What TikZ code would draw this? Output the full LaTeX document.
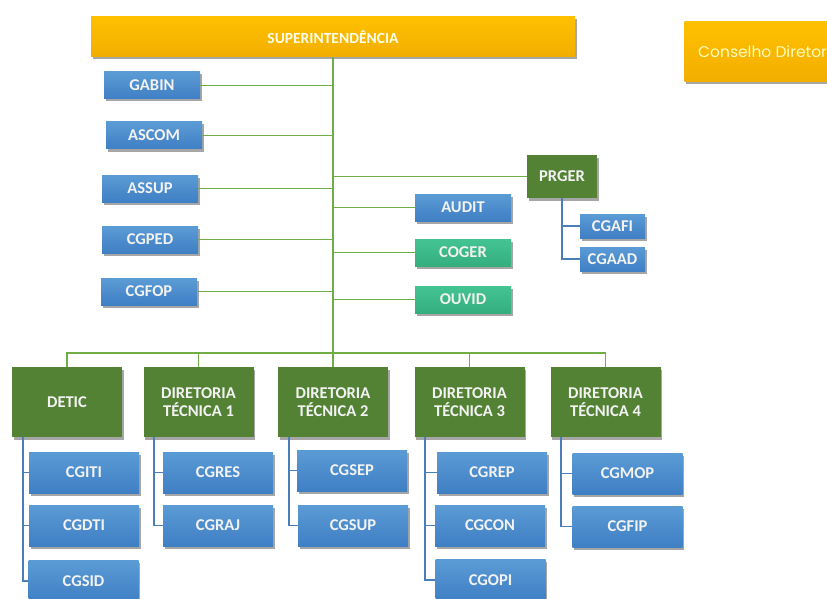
\documentclass[tikz,border=0pt]{standalone}
\usepackage{fontspec}
\setmainfont{Carlito}
\newfontfamily\thinsans{Poppins}
\usepackage{tikz}
\usetikzlibrary{calc,shadows}
\definecolor{supyellow}{HTML}{FFC000}
\definecolor{supdark}{HTML}{F2AE00}
\definecolor{boxblue}{HTML}{5B9BD5}
\definecolor{boxbluedk}{HTML}{3F7FC4}
\definecolor{dirgreen}{HTML}{548235}
\definecolor{tealbox}{HTML}{44C493}
\definecolor{tealdk}{HTML}{35AE7E}
\definecolor{linegreen}{HTML}{70AD47}
\definecolor{lineblue}{HTML}{4A7EBB}

\begin{document}
\begin{tikzpicture}[x=1pt,y=-1pt,
  shd/.style={drop shadow={shadow xshift=1.5pt,shadow yshift=-2.5pt,opacity=.35,fill=black}},
  unit/.style={shd,top color=boxblue,bottom color=boxbluedk,draw=none,text=white!95!black,
    inner sep=0pt,minimum width=96pt,minimum height=27pt,font=\bfseries\fontsize{16.5}{19}\selectfont},
  coord/.style={unit,minimum width=110pt,minimum height=41pt},
  small/.style={unit,minimum width=65pt,minimum height=24pt},
  ctrl/.style={unit,top color=tealbox,bottom color=tealdk},
  dir/.style={shd,fill=dirgreen,text=white!95!black,inner sep=0pt,align=center,
    minimum width=110pt,minimum height=70pt,font=\bfseries\fontsize{16.5}{18}\selectfont},
  top/.style={shd,top color=supyellow,bottom color=supdark,text=white!92!yellow,inner sep=0pt},
  trunk/.style={linegreen,line width=2.4pt},
  link/.style={linegreen,line width=1.8pt},
  spine/.style={lineblue,line width=1.8pt}]
\useasboundingbox[fill=white] (0,0) rectangle (827,599);

% top level
\node[top,minimum width=484pt,minimum height=40pt,font=\bfseries\fontsize{15.5}{17}\selectfont] (sup) at (333,37) {SUPERINTEND\^ENCIA};
\node[top,minimum width=145pt,minimum height=60pt] (cons) at (757,52) {};
\node[anchor=west,text=white!75!yellow,font=\thinsans\fontsize{15.5}{18}\selectfont,inner sep=0pt] (consl) at (698,52) {Conselho Diretor};

% staff units, left side
\node[unit] (gabin) at (152,85.5) {GABIN};
\node[unit] (ascom) at (154,135.5) {ASCOM};
\node[unit] (assup) at (150,188.5) {ASSUP};
\node[unit] (cgped) at (150,239.5) {CGPED};
\node[unit] (cgfop) at (149,291.5) {CGFOP};

% right side
\node[dir,minimum width=70pt,minimum height=43pt] (prger) at (562,176.5) {PRGER};
\node[unit] (audit) at (463,207.5) {AUDIT};
\node[ctrl] (coger) at (463,252.5) {COGER};
\node[ctrl] (ouvid) at (463,299.5) {OUVID};
\node[small] (cgafi) at (612.5,226) {CGAFI};
\node[small] (cgaad) at (612.5,259) {CGAAD};

% directorates
\node[dir] (detic) at (67,402) {DETIC};
\node[dir] (dt1) at (198.5,402) {DIRETORIA\\T\'ECNICA 1};
\node[dir] (dt2) at (333,402) {DIRETORIA\\T\'ECNICA 2};
\node[dir] (dt3) at (469.5,402) {DIRETORIA\\T\'ECNICA 3};
\node[dir] (dt4) at (605.5,402) {DIRETORIA\\T\'ECNICA 4};

\node[coord] (cgiti) at (84,472.5) {CGITI};
\node[coord] (cgdti) at (84,525.5) {CGDTI};
\node[coord] (cgsid) at (83.5,581) {CGSID};
\node[coord] (cgres) at (218,472.5) {CGRES};
\node[coord] (cgraj) at (218,525.5) {CGRAJ};
\node[coord] (cgsep) at (352,470.5) {CGSEP};
\node[coord] (cgsup) at (353,525.5) {CGSUP};
\node[coord] (cgrep) at (492,472.5) {CGREP};
\node[coord] (cgcon) at (490,525.5) {CGCON};
\node[coord] (cgopi) at (490.5,580) {CGOPI};
\node[coord] (cgmop) at (627.5,473.5) {CGMOP};
\node[coord] (cgfip) at (627.5,526.5) {CGFIP};

% connectors
\coordinate (bus) at (333,353);
\draw[trunk] (sup.south) -- (bus);
\foreach \u in {gabin,ascom,assup,cgped,cgfop}
  \draw[link] (\u.east) -- (\u.east -| sup.south);
\foreach \u in {prger,audit,coger,ouvid}
  \draw[link] (\u.west) -- (\u.west -| sup.south);
\draw[link] (detic.north) |- (bus) -| (dt4.north);
\foreach \d in {dt1,dt2,dt3}
  \draw[link] (\d.north) -- (\d.north |- bus);
\foreach \c in {cgafi,cgaad}
  \draw[spine] (prger.south) |- (\c.west);
\foreach \d/\c in {detic/cgiti,detic/cgdti,detic/cgsid,dt1/cgres,dt1/cgraj,
    dt2/cgsep,dt2/cgsup,dt3/cgrep,dt3/cgcon,dt3/cgopi,dt4/cgmop,dt4/cgfip}
  \draw[spine] ($(\d.south west)+(11,0)$) |- (\c.west);
\end{tikzpicture}
\end{document}
